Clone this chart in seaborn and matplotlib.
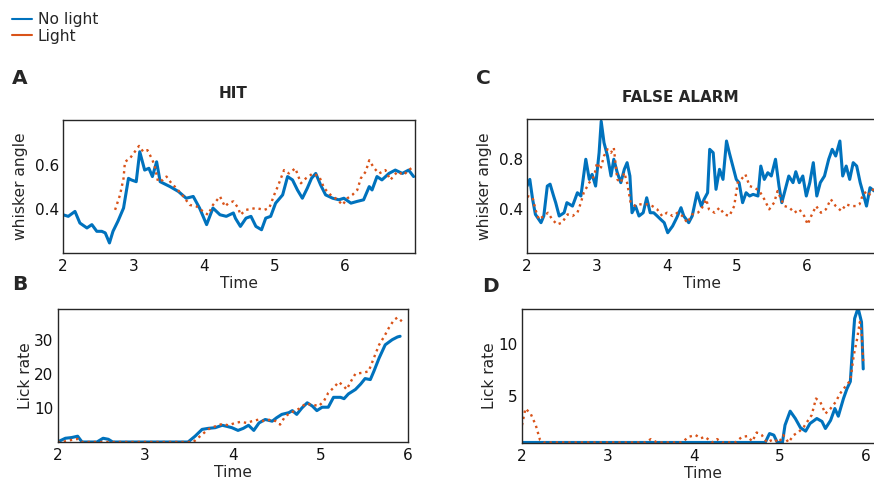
import matplotlib
matplotlib.use("Agg")
import matplotlib.pyplot as plt
from matplotlib.lines import Line2D
import seaborn as sns
import pandas as pd

# ---------------- data ----------------
series_names = ["No light", "Light"]
time_label = "Time"

# Panel A (HIT) whisker angle
hit_t_nolight = [2.00, 2.075, 2.17, 2.24, 2.34, 2.41, 2.48, 2.55, 2.60, 2.66, 2.71, 2.78, 2.86, 2.93, 2.97,
                 3.04, 3.09, 3.16, 3.22, 3.27, 3.33, 3.38, 3.52, 3.64, 3.75, 3.85, 3.94, 4.04, 4.13, 4.23,
                 4.32, 4.42, 4.45, 4.52, 4.60, 4.67, 4.74, 4.82, 4.88, 4.95, 5.02, 5.12, 5.19, 5.26, 5.33,
                 5.40, 5.47, 5.53, 5.59, 5.66, 5.73, 5.83, 5.92, 5.99, 6.09, 6.18, 6.27, 6.35, 6.39, 6.46,
                 6.53, 6.63, 6.72, 6.82, 6.91, 6.98]
hit_angle_nolight = [.376, .369, .391, .339, .317, .332, .302, .302, .295, .250, .302, .347, .406, .539, .532,
                     .524, .658, .576, .584, .547, .613, .524, .502, .480, .450, .458, .406, .332, .406, .376,
                     .369, .384, .360, .324, .361, .369, .324, .309, .361, .369, .428, .465, .547, .532, .487,
                     .450, .495, .539, .561, .509, .465, .450, .443, .450, .428, .436, .443, .502, .487, .547,
                     .532, .561, .576, .561, .576, .547]
hit_t_light = [2.74, 2.81, 2.86, 2.88, 2.95, 3.02, 3.08, 3.14, 3.20, 3.26, 3.30, 3.35, 3.42, 3.47, 3.54,
               3.61, 3.71, 3.80, 3.90, 3.99, 4.06, 4.13, 4.23, 4.30, 4.35, 4.42, 4.49, 4.52, 4.60, 4.74,
               4.86, 4.93, 5.00, 5.05, 5.14, 5.21, 5.30, 5.38, 5.45, 5.55, 5.64, 5.71, 5.80, 5.90, 5.97,
               6.04, 6.11, 6.18, 6.23, 6.30, 6.35, 6.42, 6.49, 6.58, 6.65, 6.75, 6.84, 6.91, 6.98]
hit_angle_light = [.398, .465, .539, .613, .628, .658, .684, .658, .665, .628, .598, .524, .532, .547, .517,
                   .495, .458, .420, .413, .391, .376, .420, .458, .413, .428, .436, .406, .376, .398, .406,
                   .398, .406, .465, .502, .576, .561, .584, .517, .539, .561, .547, .495, .465, .443, .420,
                   .450, .465, .487, .539, .569, .620, .584, .561, .576, .532, .569, .554, .576, .591]

# Panel C (FALSE ALARM) whisker angle
fa_t_nolight = [2.00, 2.04, 2.08, 2.12, 2.20, 2.24, 2.29, 2.33, 2.38, 2.41, 2.46, 2.53, 2.57, 2.65, 2.72,
                2.77, 2.84, 2.89, 2.93, 2.98, 3.03, 3.06, 3.10, 3.15, 3.20, 3.24, 3.29, 3.34, 3.39, 3.43,
                3.47, 3.50, 3.55, 3.60, 3.66, 3.71, 3.76, 3.81, 3.86, 3.91, 3.96, 4.01, 4.08, 4.14, 4.20,
                4.24, 4.31, 4.36, 4.43, 4.49, 4.53, 4.58, 4.61, 4.66, 4.70, 4.75, 4.80, 4.85, 4.89, 4.94,
                4.99, 5.03, 5.08, 5.13, 5.18, 5.23, 5.30, 5.34, 5.39, 5.44, 5.49, 5.55, 5.60, 5.64, 5.69,
                5.74, 5.80, 5.84, 5.89, 5.94, 5.99, 6.04, 6.09, 6.14, 6.19, 6.25, 6.31, 6.36, 6.41, 6.47,
                6.51, 6.56, 6.61, 6.66, 6.71, 6.76, 6.80, 6.85, 6.90, 6.96]
fa_angle_nolight = [.585, .638, .480, .360, .294, .347, .585, .600, .506, .453, .347, .373, .453, .426, .532,
                    .506, .798, .638, .678, .585, .850, 1.10, .930, .824, .665, .798, .691, .612, .718, .771,
                    .665, .373, .426, .347, .373, .492, .373, .373, .347, .320, .294, .214, .267, .334, .413,
                    .347, .294, .347, .532, .426, .480, .532, .877, .850, .559, .718, .638, .943, .850, .744,
                    .638, .612, .453, .532, .506, .519, .506, .744, .638, .691, .665, .798, .585, .453, .559,
                    .665, .612, .699, .612, .665, .506, .612, .771, .506, .612, .665, .798, .877, .824, .943,
                    .665, .744, .638, .771, .744, .612, .532, .426, .572, .546]
fa_t_light = [2.00, 2.08, 2.12, 2.17, 2.24, 2.30, 2.36, 2.43, 2.50, 2.58, 2.65, 2.72, 2.77, 2.81, 2.89,
              2.96, 3.00, 3.05, 3.10, 3.15, 3.20, 3.24, 3.29, 3.34, 3.39, 3.43, 3.48, 3.55, 3.62, 3.72,
              3.79, 3.86, 3.93, 4.00, 4.08, 4.15, 4.22, 4.29, 4.36, 4.44, 4.49, 4.56, 4.60, 4.68, 4.75,
              4.82, 4.89, 4.96, 5.01, 5.06, 5.12, 5.18, 5.25, 5.32, 5.39, 5.46, 5.53, 5.58, 5.63, 5.68,
              5.75, 5.82, 5.89, 5.96, 6.01, 6.06, 6.13, 6.20, 6.27, 6.34, 6.41, 6.49, 6.56, 6.63, 6.70,
              6.75, 6.80, 6.86, 6.90, 6.96]
fa_angle_light = [.506, .493, .400, .320, .347, .373, .320, .280, .294, .360, .347, .373, .453, .532, .612,
                  .665, .771, .718, .824, .877, .850, .890, .638, .612, .691, .612, .453, .426, .440, .440,
                  .426, .400, .347, .373, .347, .373, .347, .294, .360, .373, .400, .480, .400, .373, .413,
                  .360, .347, .426, .612, .638, .678, .585, .572, .546, .480, .400, .453, .546, .480, .426,
                  .413, .373, .400, .347, .280, .347, .426, .373, .400, .480, .426, .387, .440, .426, .426,
                  .440, .519, .546, .519, .572]

# Panel B (HIT) lick rate
hit_lick_t_nolight = [2.00, 2.09, 2.16, 2.23, 2.28, 2.45, 2.52, 2.58, 2.63, 3.49, 3.57, 3.65, 3.72, 3.80,
                      3.88, 3.93, 3.99, 4.06, 4.12, 4.18, 4.24, 4.30, 4.37, 4.45, 4.50, 4.56, 4.64, 4.68,
                      4.73, 4.79, 4.85, 4.91, 4.96, 5.02, 5.09, 5.15, 5.23, 5.27, 5.32, 5.40, 5.46, 5.51,
                      5.57, 5.61, 5.67, 5.74, 5.82, 5.88, 5.91]
hit_lick_nolight = [0.0, 1.1, 1.3, 1.7, 0.0, 0.0, 1.1, 0.8, 0.0, 0.0, 1.7, 3.7, 4.0, 4.2,
                    4.9, 4.6, 4.2, 3.4, 4.0, 4.9, 3.4, 5.6, 6.6, 6.1, 7.1, 8.1, 8.6, 9.2,
                    8.1, 10.0, 11.5, 10.5, 9.2, 10.2, 10.2, 13.1, 13.1, 12.7, 14.1, 15.4, 17.0, 18.6,
                    18.3, 20.7, 24.6, 28.5, 30.0, 30.8, 31.0]
hit_lick_t_light = [2.00, 2.05, 2.16, 2.23, 2.28, 3.55, 3.65, 3.72, 3.80, 3.88, 3.95, 4.03, 4.09, 4.16,
                    4.22, 4.30, 4.36, 4.44, 4.49, 4.54, 4.60, 4.68, 4.76, 4.83, 4.91, 4.98, 5.04, 5.09,
                    5.15, 5.21, 5.27, 5.30, 5.36, 5.40, 5.48, 5.55, 5.61, 5.67, 5.73, 5.78, 5.84, 5.88, 5.93]
hit_lick_light = [0.0, 0.0, 0.6, 0.9, 0.0, 0.0, 2.2, 3.7, 4.6, 5.3, 4.9, 5.6, 5.9, 5.6,
                  6.1, 6.6, 6.1, 6.6, 6.1, 5.1, 7.6, 8.8, 9.8, 11.2, 11.0, 10.5, 12.0, 14.4,
                  15.9, 17.6, 16.3, 15.4, 18.3, 20.0, 20.3, 20.7, 24.6, 28.5, 31.0, 33.4, 35.8, 36.5, 35.4]

# Panel D (FALSE ALARM) lick rate
fa_lick_t_nolight = [2.00, 4.83, 4.88, 4.93, 4.97, 5.03, 5.06, 5.12, 5.18, 5.24, 5.30, 5.35, 5.43, 5.49,
                     5.53, 5.59, 5.64, 5.68, 5.74, 5.78, 5.82, 5.85, 5.87, 5.91, 5.95, 5.97]
fa_lick_nolight = [0.6, 0.6, 1.45, 1.3, 0.6, 0.6, 2.25, 3.58, 2.88, 2.0, 1.68, 2.4, 2.88, 2.6,
                   1.93, 2.7, 3.83, 3.1, 4.78, 5.7, 6.4, 10.2, 12.4, 13.4, 12.06, 7.6]
fa_lick_t_light = [2.00, 2.04, 2.10, 2.16, 2.21, 2.25, 3.43, 3.50, 3.57, 3.86, 3.94, 4.02, 4.08, 4.13,
                   4.21, 4.27, 4.33, 4.48, 4.56, 4.62, 4.68, 4.73, 4.79, 4.85, 4.93, 4.99, 5.04, 5.10,
                   5.16, 5.22, 5.28, 5.33, 5.37, 5.42, 5.47, 5.53, 5.59, 5.65, 5.70, 5.76, 5.82, 5.86,
                   5.90, 5.93, 5.95, 5.97]
fa_lick_light = [2.25, 3.83, 3.35, 2.25, 0.83, 0.6, 0.6, 0.92, 0.6, 0.6, 1.14, 1.3, 1.0, 1.14,
                 0.6, 0.92, 0.6, 0.6, 1.14, 1.2, 0.7, 1.55, 1.3, 0.6, 0.92, 0.6, 1.3, 0.6,
                 1.3, 1.6, 2.1, 2.72, 3.2, 4.78, 4.46, 3.35, 3.83, 4.46, 5.25, 5.9, 6.5, 8.9,
                 10.5, 12.06, 11.1, 8.3]

# ---------------- style ----------------
sns.set_style("white")
plt.rcParams["font.family"] = ["DejaVu Sans"]

BLUE = "#0072BD"
ORANGE = "#D95319"
SPINE = "#262626"

fig = plt.figure(figsize=(8.74, 4.82), dpi=100)
W, H = 874.0, 482.0


def add_ax(left, top, right, bottom):
    return fig.add_axes([left / W, 1 - bottom / H, (right - left) / W, (bottom - top) / H])


axA = add_ax(63, 120, 415, 253)
axC = add_ax(527, 119, 877, 253)
axB = add_ax(57.5, 309, 408, 442)
axD = add_ax(522, 309, 883, 443)


def draw(ax, t0, y0, t1, y1):
    d0 = pd.DataFrame({"t": t0, "v": y0})
    d1 = pd.DataFrame({"t": t1, "v": y1})
    sns.lineplot(data=d0, x="t", y="v", ax=ax, color=BLUE, lw=2.2, estimator=None, sort=False)
    sns.lineplot(data=d1, x="t", y="v", ax=ax, color=ORANGE, lw=1.7, linestyle=":",
                 estimator=None, sort=False)


draw(axA, hit_t_nolight, hit_angle_nolight, hit_t_light, hit_angle_light)
draw(axC, fa_t_nolight, fa_angle_nolight, fa_t_light, fa_angle_light)
draw(axB, hit_lick_t_nolight, hit_lick_nolight, hit_lick_t_light, hit_lick_light)
draw(axD, fa_lick_t_nolight, fa_lick_nolight, fa_lick_t_light, fa_lick_light)

axA.set_xlim(2, 7); axA.set_ylim(0.205, 0.8)
axA.set_xticks([2, 3, 4, 5, 6]); axA.set_yticks([0.4, 0.6])
axC.set_xlim(2, 7); axC.set_ylim(0.053, 1.118)
axC.set_xticks([2, 3, 4, 5, 6]); axC.set_yticks([0.4, 0.8])
axB.set_xlim(2, 6); axB.set_ylim(0, 39)
axB.set_xticks([2, 3, 4, 5, 6]); axB.set_yticks([10, 20, 30])
axD.set_xlim(2, 6.2); axD.set_ylim(0.55, 13.3)
axD.set_xticks([2, 3, 4, 5, 6]); axD.set_yticks([5, 10])

for ax in (axA, axC):
    ax.set_yticklabels([f"{v:.1f}" for v in ax.get_yticks()])
    ax.set_ylabel("whisker angle", fontsize=11.2)
for ax in (axB, axD):
    ax.set_ylabel("Lick rate", fontsize=11.2)

for ax in (axA, axB, axC, axD):
    ax.set_xlabel(time_label, fontsize=11.2)
    for s in ax.spines.values():
        s.set_visible(True)
        s.set_color(SPINE)
        s.set_linewidth(1.0)
    ax.tick_params(axis="x", direction="in", length=4, width=0.8, color="#555555",
                   labelsize=11, pad=4, labelcolor="#111111")
    ax.tick_params(axis="y", direction="inout", length=5, width=0.8, color="#333333",
                   labelsize=11, pad=0.5, labelcolor="#111111")
    ax.xaxis.set_label_coords(0.5, -0.17)
    ax.grid(False)

axA.yaxis.set_label_coords(-0.10, 0.5)
axC.yaxis.set_label_coords(-0.10, 0.5)
axB.yaxis.set_label_coords(-0.07, 0.5)
axD.yaxis.set_label_coords(-0.07, 0.5)

# panel letters and titles
fig.text(12 / W, 1 - 78 / H, "A", fontsize=14.5, fontweight="bold", ha="left", va="center")
fig.text(476 / W, 1 - 78 / H, "C", fontsize=14.5, fontweight="bold", ha="left", va="center")
fig.text(12 / W, 1 - 285 / H, "B", fontsize=14.5, fontweight="bold", ha="left", va="center")
fig.text(482 / W, 1 - 287 / H, "D", fontsize=14.5, fontweight="bold", ha="left", va="center")
fig.text(233 / W, 1 - 93 / H, "HIT", fontsize=11, fontweight="bold", ha="center", va="center")
fig.text(680 / W, 1 - 97 / H, "FALSE ALARM", fontsize=11, fontweight="bold", ha="center", va="center")

handles = [Line2D([], [], color=BLUE, lw=1.5), Line2D([], [], color=ORANGE, lw=1.5)]
fig.legend(handles, series_names, loc="upper left", bbox_to_anchor=(12 / W, 1 - 12 / H),
           frameon=False, fontsize=11.2, handlelength=1.28, handletextpad=0.38,
           labelspacing=0.12, borderaxespad=0.0, borderpad=0.0)

fig.savefig("out.png", dpi=100)
